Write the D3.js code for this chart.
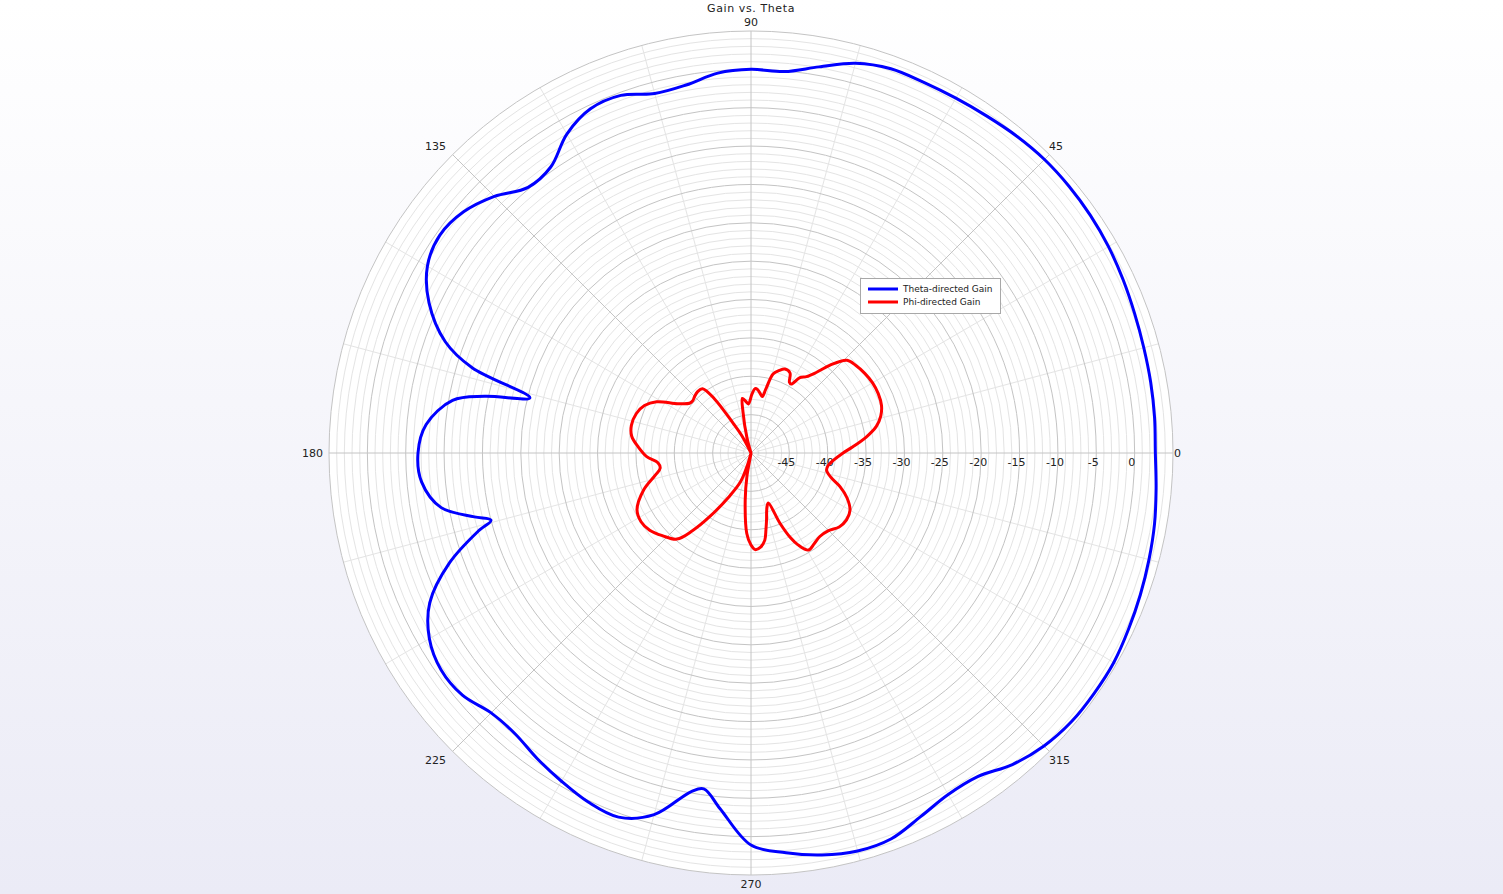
<!DOCTYPE html>
<html><head><meta charset="utf-8">
<script src="https://cdn.jsdelivr.net/npm/d3@7"></script>
<style>html,body{margin:0;padding:0;overflow:hidden;background:#fff;} text{font-family:"DejaVu Sans",sans-serif;}</style>
</head><body><svg id="c" width="1503" height="894"></svg>
<script>
const chartTitle = "Gain vs. Theta";
const seriesNames = ["Theta-directed Gain", "Phi-directed Gain"];
const angleTicks = [0, 45, 90, 135, 180, 225, 270, 315];
const radialTicks = [-45, -40, -35, -30, -25, -20, -15, -10, -5, 0];
const radialDomain = [-50, 5];

const thetaBlue = [0,5,10,15,20,25,30,35,40,45,50,55,60,65,70,75,80,85,90,95,100,105,110,115,120,125,130,135,140,145,150,155,160,163,166,168,170,175,180,185,190,193,194.5,196,200,205,210,215,220,225,230,235,240,245,250,255,260,262,265,270,275,280,285,290,295,300,305,310,315,320,325,330,335,340,345,350,355];
const gainBlue  = [2.7,2.8,2.9,3.0,3.2,3.5,3.8,4.0,4.1,4.1,3.9,3.6,3.4,3.3,3.3,2.6,1.1,-0.1,0.0,-0.3,-1.3,-1.5,-0.4,-0.5,-2.0,-4.5,-4.8,-2.7,-1.1,-0.5,-1.3,-3.7,-7.6,-12,-20.3,-14.5,-10.5,-7.5,-6.6,-6.9,-9,-13,-15,-13,-8.2,-3.8,-1.6,-0.7,-0.9,-2.1,-2.2,-1.4,-0.6,0.2,0.5,-1.2,-5.2,-5.8,-3.5,1.1,2.3,3.2,3.7,3.5,2.3,1.4,1.5,3.0,4.0,4.5,4.6,4.6,4.3,4.0,3.7,3.4,3.0];

const thetaRed = [0,3.5,8,12,16,20,25,30,35,40,44,48,51,54,57,59.7,61.5,64,68,71,74.4,77,78.6,81,84,86.4,89,93,96,99,101,105,109,114,118,121,124,127,131,135,138,141,146,151.5,156,161,167,172,177,182,186,189.5,193,199,206.5,212,217.3,223,229.3,233,237,243,250,254,257,260,263,267,270,272.5,276,279,281,283,286,289,292.4,295,297,300.6,305,309.5,315,320,325,330,335,339.3,343,347.3,351,355];
const gainRed  = [-38.0,-36.7,-34.8,-33.3,-32.4,-31.9,-31.7,-31.7,-31.9,-32.2,-32.6,-34.6,-36.5,-37.7,-38.3,-39.6,-39.5,-38.4,-38.2,-38.6,-39.3,-41.5,-42.5,-42.2,-41.7,-41.6,-42.3,-43.6,-43.2,-42.8,-44.5,-48,-50,-50,-47.5,-45.5,-41.5,-39.5,-39.4,-39.6,-39.8,-39.7,-38.5,-36.0,-34.8,-34.2,-34.0,-34.3,-35.3,-36.4,-37.8,-38.0,-37.2,-35.2,-33.4,-33.1,-33.4,-34.2,-35.2,-37.3,-40.1,-43.5,-46,-48.5,-50,-47,-43.8,-39.5,-38,-37.4,-37.7,-38.5,-39.8,-41,-42.5,-43.1,-40.1,-37.8,-36.6,-35.3,-35.6,-35.9,-35.7,-35.0,-34.8,-35.1,-36.2,-37.6,-39.1,-39.9,-39.8,-39.2];

const W = 1503, H = 894, cx = 751, cy = 453, R = 422;
const svg = d3.select("#c");
const defs = svg.append("defs");
const grad = defs.append("linearGradient").attr("id","bg").attr("x1",0).attr("y1",0).attr("x2",0).attr("y2",1);
grad.append("stop").attr("offset","0%").attr("stop-color","#ffffff");
grad.append("stop").attr("offset","100%").attr("stop-color","#ebebf6");
svg.append("rect").attr("width",W).attr("height",H).attr("fill","url(#bg)");

const r = d3.scaleLinear().domain(radialDomain).range([0, R]).clamp(true);
const toRad = t => (90 - t) * Math.PI / 180;

const g = svg.append("g").attr("transform", `translate(${cx},${cy})`);
g.append("circle").attr("r", R).attr("fill", "#fff");

// minor rings
const minorRings = d3.range(radialDomain[0] + 1, radialDomain[1], 1).filter(v => v % 5 !== 0);
g.selectAll("circle.minor").data(minorRings).join("circle").attr("class","minor")
  .attr("r", d => r(d)).attr("fill","none").attr("stroke","#e4e4e4").attr("stroke-width",1);
// minor spokes
const spokes = d3.range(0, 360, 15);
g.selectAll("line.mspoke").data(spokes.filter(a => a % 45 !== 0)).join("line").attr("class","mspoke")
  .attr("x1", d => 6*Math.cos(d*Math.PI/180)).attr("y1", d => -6*Math.sin(d*Math.PI/180))
  .attr("x2", d => R*Math.cos(d*Math.PI/180)).attr("y2", d => -R*Math.sin(d*Math.PI/180))
  .attr("stroke","#e4e4e4").attr("stroke-width",1);
// major rings
const majorRings = d3.range(radialDomain[0] + 5, radialDomain[1] + 1, 5);
g.selectAll("circle.major").data(majorRings).join("circle").attr("class","major")
  .attr("r", d => r(d)).attr("fill","none").attr("stroke","#c4c4c4").attr("stroke-width",1);
g.selectAll("line.spoke").data(spokes.filter(a => a % 45 === 0)).join("line").attr("class","spoke")
  .attr("x1", 0).attr("y1", 0)
  .attr("x2", d => R*Math.cos(d*Math.PI/180)).attr("y2", d => -R*Math.sin(d*Math.PI/180))
  .attr("stroke","#c4c4c4").attr("stroke-width",1);

// radial labels
g.selectAll("text.rl").data(radialTicks).join("text").attr("class","rl")
  .attr("x", d => r(d) - 3).attr("y", 13).attr("text-anchor","middle")
  .attr("font-size", 11).attr("fill","#222").text(d => d);

// angle labels
angleTicks.forEach(a => {
  const rad = a * Math.PI / 180;
  const c = Math.cos(rad), s = Math.sin(rad);
  let x, y, anchor = "middle", dy = "0.35em";
  if (Math.abs(s) < 0.1) {            // 0 / 180
    x = c > 0 ? R + 1 : -(R + 6); y = 0; anchor = c > 0 ? "start" : "end";
  } else if (Math.abs(c) < 0.1) {     // 90 / 270
    x = 0;
    if (s > 0) { y = -(R + 5); dy = "0em"; } else { y = R + 5; dy = "0.75em"; }
  } else {                            // diagonals
    const rr = R + 5;
    x = rr * c + (c > 0 ? -4 : -3); y = -rr * s;
    anchor = c > 0 ? "start" : "end";
    dy = s > 0 ? "-0.1em" : "0.85em";
  }
  g.append("text").attr("x", x).attr("y", y).attr("dy", dy)
    .attr("text-anchor", anchor).attr("font-size", 11).attr("fill","#222").text(a);
});

const line = d3.lineRadial().angle(d => toRad(d[0])).radius(d => r(d[1]))
  .curve(d3.curveCatmullRomClosed.alpha(0.5));

const blue = thetaBlue.map((t,i) => [t, gainBlue[i]]);
const red = thetaRed.map((t,i) => [t, gainRed[i]]);
g.append("path").datum(red).attr("d", line).attr("fill","none").attr("stroke","#ff0000").attr("stroke-width",3).attr("stroke-linejoin","round");
g.append("path").datum(blue).attr("d", line).attr("fill","none").attr("stroke","#0000ff").attr("stroke-width",3).attr("stroke-linejoin","round");

// title
svg.append("text").attr("x", cx).attr("y", 12).attr("text-anchor","middle")
  .attr("font-size", 11).attr("letter-spacing", 0.6).attr("fill","#222").text(chartTitle);

// legend
const lg = svg.append("g").attr("transform","translate(860,278)");
lg.append("rect").attr("x",0.5).attr("y",0.5).attr("width",140).attr("height",35).attr("fill","#fff").attr("stroke","#a8a8a8");
const colors = ["#0000ff","#ff0000"];
seriesNames.forEach((n,i) => {
  const yy = 11 + i*13;
  lg.append("line").attr("x1",8).attr("x2",38).attr("y1",yy).attr("y2",yy).attr("stroke",colors[i]).attr("stroke-width",3);
  lg.append("text").attr("x",43).attr("y",yy+3).attr("font-size",9).attr("fill","#222").text(n);
});
</script></body></html>
